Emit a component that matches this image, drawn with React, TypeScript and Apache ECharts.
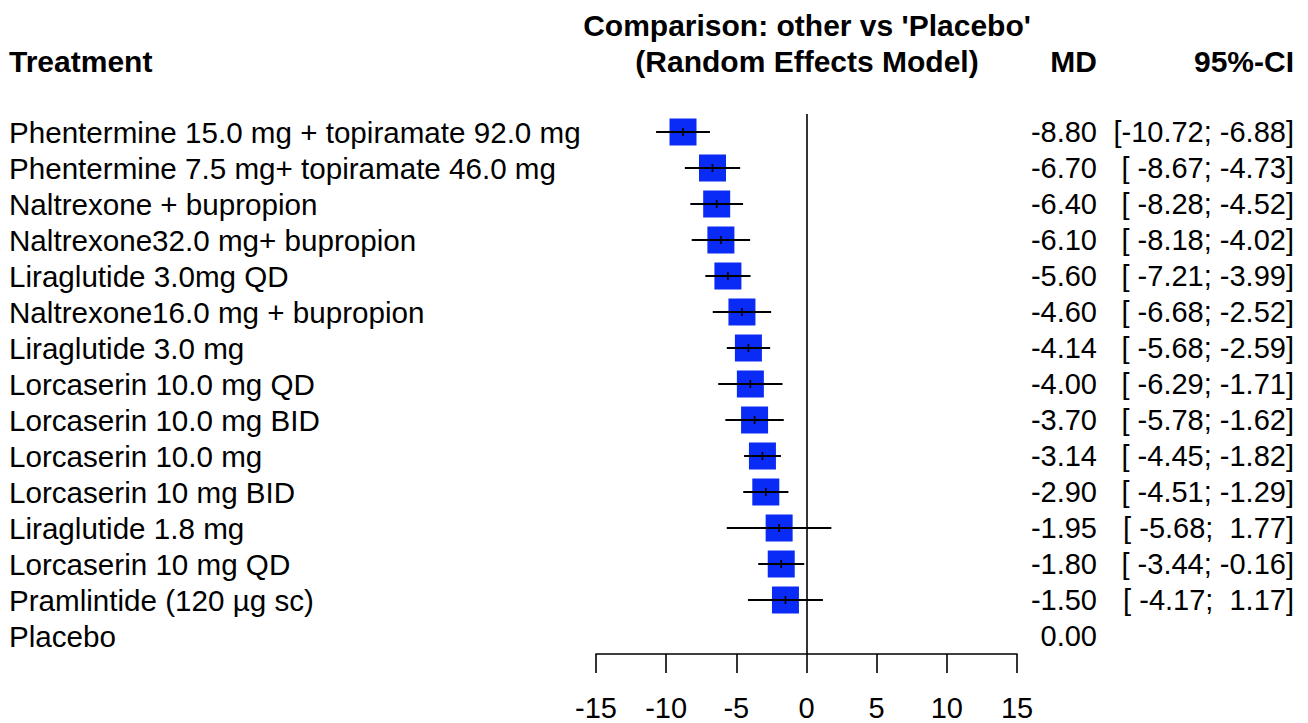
import React, { useEffect, useRef } from "react";
import * as echarts from "echarts";

const treatments = [
  "Phentermine 15.0 mg + topiramate 92.0 mg",
  "Phentermine 7.5 mg+ topiramate 46.0 mg",
  "Naltrexone + bupropion",
  "Naltrexone32.0 mg+ bupropion",
  "Liraglutide 3.0mg QD",
  "Naltrexone16.0 mg + bupropion",
  "Liraglutide 3.0 mg",
  "Lorcaserin 10.0 mg QD",
  "Lorcaserin 10.0 mg BID",
  "Lorcaserin 10.0 mg",
  "Lorcaserin 10 mg BID",
  "Liraglutide 1.8 mg",
  "Lorcaserin 10 mg QD",
  "Pramlintide (120 µg sc)",
  "Placebo",
];

const md = [-8.8, -6.7, -6.4, -6.1, -5.6, -4.6, -4.14, -4.0, -3.7, -3.14, -2.9, -1.95, -1.8, -1.5, 0.0];
const lower: (number | null)[] = [-10.72, -8.67, -8.28, -8.18, -7.21, -6.68, -5.68, -6.29, -5.78, -4.45, -4.51, -5.68, -3.44, -4.17, null];
const upper: (number | null)[] = [-6.88, -4.73, -4.52, -4.02, -3.99, -2.52, -2.59, -1.71, -1.62, -1.82, -1.29, 1.77, -0.16, 1.17, null];

const xTicks = [-15, -10, -5, 0, 5, 10, 15];

const FONT = "'Liberation Sans', Arial, Helvetica, sans-serif";
const FS = 29;
const FS_LABEL = 29.6;
const FS_HEAD = 30;

const mdLabels = md.map((v) => v.toFixed(2));
const ciLabels = lower.map((lo, i) => {
  const hi = upper[i];
  if (lo == null || hi == null) return "";
  return `[${lo.toFixed(2).padStart(6, " ")}; ${hi.toFixed(2).padStart(5, " ")}]`;
});

export default function App() {
  const ref = useRef<HTMLDivElement>(null);
  useEffect(() => {
    if (!ref.current) return;
    const chart = echarts.init(ref.current, null, { renderer: "svg" });
    const squares = md
      .map((v, i) => (lower[i] == null ? null : [v, i]))
      .filter((d) => d != null);
    const ciData = md
      .map((v, i) => (lower[i] == null ? null : [i, lower[i], upper[i], v]))
      .filter((d) => d != null);

    const yBase = {
      type: "category",
      data: treatments,
      inverse: true,
      axisLine: { show: false },
      axisTick: { show: false },
      splitLine: { show: false },
    };

    const head = (text: string, x: number, y: number, align: string) => ({
      type: "text",
      x,
      y,
      style: {
        text,
        font: `bold ${FS_HEAD}px ${FONT}`,
        fill: "#000",
        align,
        verticalAlign: "middle",
      },
    });

    chart.setOption({
      animation: false,
      backgroundColor: "#ffffff",
      textStyle: { fontFamily: FONT },
      grid: { left: 596, width: 421, top: 114, height: 540, containLabel: false },
      xAxis: {
        type: "value",
        min: xTicks[0],
        max: xTicks[xTicks.length - 1],
        interval: 5,
        splitLine: { show: false },
        axisLine: { show: true, onZero: false, lineStyle: { color: "#000", width: 1.6 } },
        axisTick: { show: true, inside: false, length: 19, lineStyle: { color: "#000", width: 1.6 } },
        axisLabel: {
          show: true,
          margin: 39,
          fontSize: FS,
          color: "#000",
          fontFamily: FONT,
          formatter: (v: number) => String(v),
        },
      },
      yAxis: [
        {
          ...yBase,
          position: "left",
          axisLabel: {
            show: true,
            interval: 0,
            align: "left",
            margin: 587,
            fontSize: FS_LABEL,
            color: "#000",
            fontFamily: FONT,
          },
        },
        {
          ...yBase,
          position: "right",
          axisLabel: {
            show: true,
            interval: 0,
            align: "right",
            margin: 80,
            fontSize: FS,
            color: "#000",
            fontFamily: FONT,
            formatter: (_v: string, idx: number) => mdLabels[idx],
          },
        },
        {
          ...yBase,
          position: "right",
          axisLabel: {
            show: true,
            interval: 0,
            align: "right",
            margin: 277,
            fontSize: FS,
            color: "#000",
            fontFamily: FONT,
            formatter: (_v: string, idx: number) => ciLabels[idx],
          },
        },
      ],
      graphic: [
        head("Comparison: other vs 'Placebo'", 807, 25, "center"),
        head("(Random Effects Model)", 807, 61, "center"),
        head("Treatment", 9, 61, "left"),
        head("MD", 1097, 61, "right"),
        head("95%-CI", 1294, 61, "right"),
      ],
      series: [
        {
          type: "scatter",
          xAxisIndex: 0,
          yAxisIndex: 0,
          symbol: "rect",
          symbolSize: 27,
          itemStyle: { color: "#0a2af5", opacity: 1 },
          data: squares,
          z: 2,
          silent: true,
        },
        {
          type: "custom",
          xAxisIndex: 0,
          yAxisIndex: 0,
          encode: { x: [1, 2, 3], y: 0 },
          data: ciData,
          z: 3,
          silent: true,
          renderItem: (_params: any, api: any) => {
            const y = api.value(0);
            const lo = api.coord([api.value(1), y]);
            const hi = api.coord([api.value(2), y]);
            const m = api.coord([api.value(3), y]);
            return {
              type: "group",
              children: [
                {
                  type: "line",
                  shape: { x1: lo[0], y1: lo[1], x2: hi[0], y2: hi[1] },
                  style: { stroke: "#000", lineWidth: 1.8 },
                },
                {
                  type: "line",
                  shape: { x1: m[0], y1: m[1] - 4, x2: m[0], y2: m[1] + 4 },
                  style: { stroke: "#000", lineWidth: 1.6 },
                },
              ],
            };
          },
          markLine: {
            silent: true,
            symbol: "none",
            label: { show: false },
            lineStyle: { color: "#000", width: 1.6, type: "solid" },
            data: [{ xAxis: 0 }],
          },
        },
      ],
    });
    return () => chart.dispose();
  }, []);

  return (
    <div
      ref={ref}
      style={{ position: "fixed", left: 0, top: 0, width: 1308, height: 723, background: "#fff" }}
    />
  );
}
